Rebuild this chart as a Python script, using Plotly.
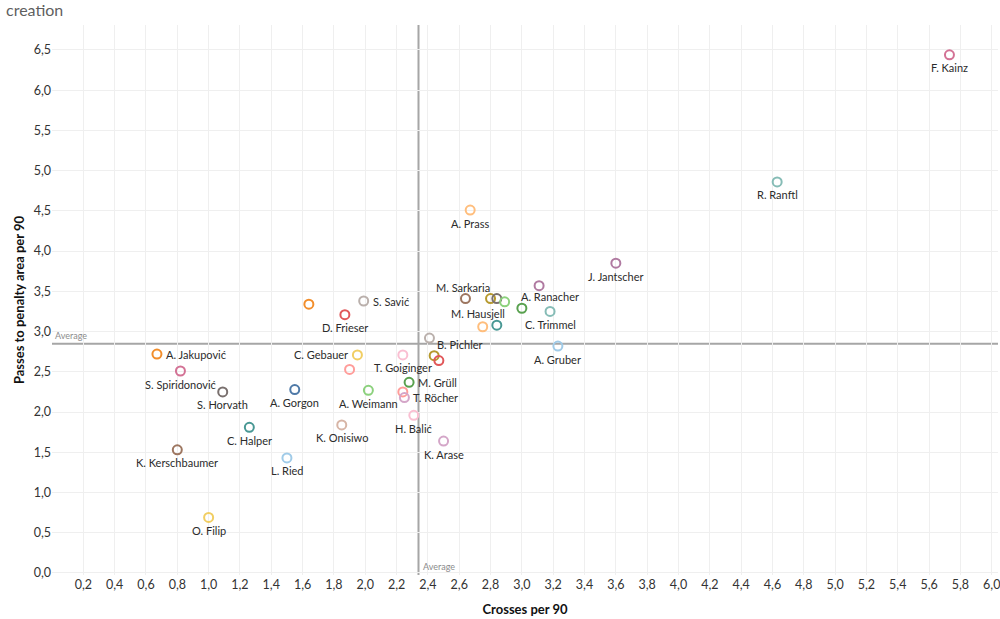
import plotly.graph_objects as go

# ---- data ----
players = [
    "F. Kainz", "R. Ranftl", "J. Jantscher", "A. Prass", "A. Ranacher",
    "M. Sarkaria", "P01", "P02", "P03", "P04",
    "C. Trimmel", "M. Hausjell", "P05", "B. Pichler", "A. Gruber",
    "P06", "P07", "T. Goiginger", "P08", "S. Savić",
    "D. Frieser", "C. Gebauer", "P09", "A. Gorgon", "A. Weimann",
    "M. Grüll", "P10", "T. Röcher", "H. Balić", "K. Onisiwo",
    "K. Arase", "L. Ried", "A. Jakupović", "S. Spiridonović", "S. Horvath",
    "C. Halper", "K. Kerschbaumer", "O. Filip",
]
crosses_per_90 = [
    5.73, 4.63, 3.60, 2.67, 3.11,
    2.64, 2.80, 2.84, 2.89, 3.00,
    3.18, 2.75, 2.84, 2.41, 3.23,
    2.44, 2.47, 2.24, 1.64, 1.99,
    1.87, 1.95, 1.90, 1.55, 2.02,
    2.28, 2.24, 2.25, 2.31, 1.85,
    2.50, 1.50, 0.67, 0.82, 1.09,
    1.26, 0.80, 1.00,
]
passes_to_box_per_90 = [
    6.44, 4.86, 3.85, 4.51, 3.57,
    3.41, 3.41, 3.41, 3.37, 3.29,
    3.25, 3.06, 3.08, 2.92, 2.82,
    2.70, 2.64, 2.71, 3.34, 3.38,
    3.21, 2.71, 2.53, 2.28, 2.27,
    2.37, 2.25, 2.18, 1.96, 1.84,
    1.64, 1.43, 2.72, 2.51, 2.25,
    1.81, 1.53, 0.69,
]
average_crosses = 2.34
average_passes = 2.85
x_ticks = [round(0.2 * i, 1) for i in range(1, 31)]
y_ticks = [round(0.5 * i, 1) for i in range(0, 14)]

# ---- styles ----
colors = [
    "#D37295", "#86BCB6", "#B07AA1", "#FFBE7D", "#B07AA1",
    "#9D7660", "#B6992D", "#79706E", "#8CD17D", "#59A14F",
    "#86BCB6", "#FFBE7D", "#499894", "#BAB0AC", "#A0CBE8",
    "#B6992D", "#E15759", "#FABFD2", "#F28E2B", "#BAB0AC",
    "#E15759", "#F1CE63", "#FF9D9A", "#4E79A7", "#8CD17D",
    "#59A14F", "#FF9D9A", "#D4A6C8", "#FABFD2", "#D7B5A6",
    "#D4A6C8", "#A0CBE8", "#F28E2B", "#D37295", "#79706E",
    "#499894", "#9D7660", "#F1CE63",
]
# label placement: (xanchor, xshift, yshift) ; None = no label
below = ("center", 0, -13)
label_place = [
    below, below, below, below, ("center", 11, -11),
    ("center", -2, 11), None, None, None, None,
    below, ("center", -5, 13), None, ("left", 6, -6), below,
    None, None, below, None, ("left", 7, 0),
    below, ("right", -7, 0), None, below, below,
    ("left", 7, 0), None, ("left", 7, 0), below, below,
    below, below, ("left", 7, 0), below, below,
    below, below, below,
]

ML, MR, MT, MB = 52, 2, 25, 44
W, H = 1000, 619
PW, PH = W - ML - MR, H - MT - MB

fig = go.Figure()

fig.add_trace(go.Scatter(
    x=crosses_per_90, y=passes_to_box_per_90, mode="markers",
    marker=dict(symbol="circle-open", size=9, color=colors,
                line=dict(width=2, color=colors)),
    hovertext=players, hoverinfo="text", showlegend=False,
))

# average reference lines
fig.add_shape(type="line", xref="x", yref="paper", x0=average_crosses, x1=average_crosses,
              y0=0, y1=1, line=dict(color="#a6a6a6", width=2), layer="below")
fig.add_shape(type="line", xref="paper", yref="y", x0=0, x1=1,
              y0=average_passes, y1=average_passes, line=dict(color="#a6a6a6", width=2), layer="below")
fig.add_annotation(x=0, xref="paper", y=average_passes, yref="y", text="Average",
                   showarrow=False, xanchor="left", yanchor="bottom", xshift=1, yshift=1,
                   font=dict(size=9, color="#8c8c8c", family="Lato"))
fig.add_annotation(x=average_crosses, xref="x", y=0, yref="paper", text="Average",
                   showarrow=False, xanchor="left", yanchor="bottom", xshift=2, yshift=1,
                   font=dict(size=9, color="#8c8c8c", family="Lato"))

for name, xv, yv, place in zip(players, crosses_per_90, passes_to_box_per_90, label_place):
    if place is None:
        continue
    xa, xs, ys = place
    fig.add_annotation(x=xv, y=yv, text=name, showarrow=False,
                       xanchor=xa, yanchor="middle", xshift=xs, yshift=ys,
                       font=dict(size=11, color="#2b2b2b", family="Lato"))

# title (cropped in the reference, top-left)
fig.add_annotation(x=(4 - ML) / PW, xref="paper", y=1 + (MT - 9) / PH, yref="paper",
                   text="creation", showarrow=False, xanchor="left", yanchor="middle",
                   font=dict(size=16, color="#5f5f5f", family="Lato"))

fig.update_layout(
    width=W, height=H,
    margin=dict(l=ML, r=MR, t=MT, b=MB, autoexpand=False),
    paper_bgcolor="white", plot_bgcolor="white",
    separators=",.",
    font=dict(family="Lato", color="#333333"),
    xaxis=dict(range=[0, 6.04], tickvals=x_ticks, tickformat=".1f", automargin=False,
               ticklabeloverflow="allow",
               showgrid=True, gridcolor="#efefef", gridwidth=1, zeroline=False,
               showline=False, ticks="", tickfont=dict(size=12.5, color="#333333"),
               title=dict(text="<b>Crosses per 90</b>", font=dict(size=13, color="#111111"), standoff=14)),
    yaxis=dict(range=[-0.025, 6.81], tickvals=y_ticks, tickformat=".1f", automargin=False,
               ticklabeloverflow="allow",
               showgrid=True, gridcolor="#efefef", gridwidth=1, zeroline=False,
               showline=False, ticks="", tickfont=dict(size=12.5, color="#333333"),
               title=dict(text="<b>Passes to penalty area per 90</b>", font=dict(size=13, color="#111111"), standoff=6)),
)

fig.write_html(
    "out.html",
    config={"displayModeBar": False},
    post_script="document.body.style.margin='0';document.body.style.overflow='hidden';",
)
